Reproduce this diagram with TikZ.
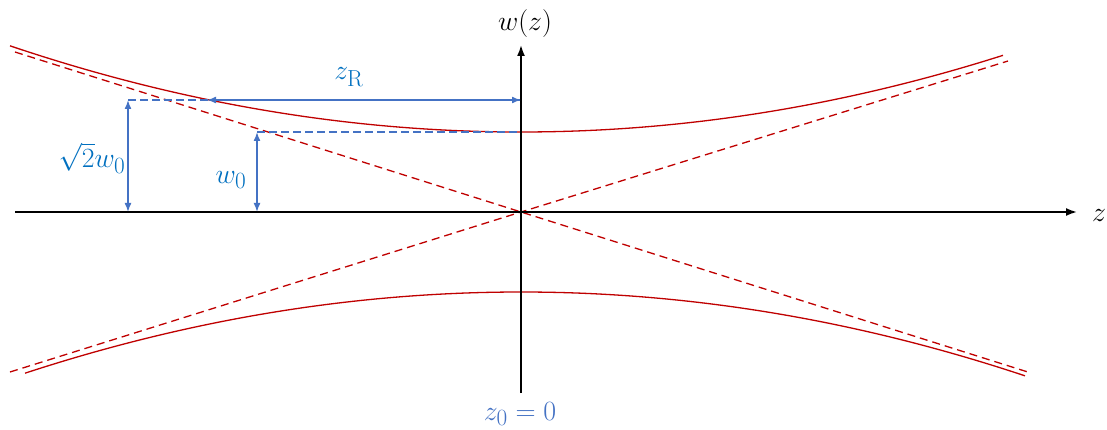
\documentclass[tikz,border=0pt]{standalone}
\usepackage{amsmath}
\usetikzlibrary{arrows.meta}
\definecolor{beamred}{RGB}{192,0,0}
\definecolor{accblue}{RGB}{68,114,196}
\definecolor{labblue}{RGB}{0,112,192}
\tikzset{
  axis/.style={draw=black, line width=1.8pt, -{Latex[length=11pt,width=8pt]}},
  beam/.style={draw=beamred, line width=1.3pt},
  asym/.style={draw=beamred, line width=1.3pt, dash pattern=on 8pt off 5pt},
  guide/.style={draw=accblue, line width=1.2pt, dash pattern=on 8pt off 4pt},
  dim/.style={draw=accblue, line width=1.6pt, {Latex[length=9pt,width=7pt]}-{Latex[length=9pt,width=7pt]}},
  lab/.style={text=labblue, font=\Huge, scale=1.12, inner sep=0pt},
  axlab/.style={text=black, font=\Huge, scale=1.12, inner sep=0pt}
}
\begin{document}
\begin{tikzpicture}[x=1pt,y=-1pt]
\useasboundingbox[fill=white] (0,0) rectangle (1107,430);
% key points
\coordinate (O) at (521,212);
\coordinate (hL) at (15,212);
\coordinate (hR) at (1077,212);
\coordinate (vB) at (521,393);
\coordinate (vT) at (521,45);
\coordinate (a1s) at (15,52);
\coordinate (a1e) at (1031,373);
\coordinate (a2s) at (10,372);
\coordinate (a2e) at (1008,61);
\coordinate (rL) at (207,100);
\coordinate (rR) at (521,100);
\coordinate (rG) at (128,100);
\coordinate (wT) at (521,132);
\coordinate (wG) at (257,132);
\coordinate (sB) at (128,212);
\coordinate (wB) at (257,212);
% asymptotes
\draw[asym] (a1s) -- (O) -- (a1e);
\draw[asym] (a2s) -- (O) -- (a2e);
% beam envelope (parabolic profile w = w0 + c z^2)
\draw[beam] plot[domain=-511:482, samples=120] ({521+\x},{132-3.3*(\x/100)^2});
\draw[beam] plot[domain=-496:504, samples=120] ({521+\x},{292+3.3*(\x/100)^2});
% guides
\draw[guide] (rG) -- (rR);
\draw[guide] (wG) -- (wT);
% axes
\draw[axis] (hL) -- (hR);
\draw[axis] (vB) -- (vT);
% dimension arrows
\draw[dim] (rL) -- (rR);
\draw[dim] (sB) -- (rG);
\draw[dim] (wB) -- (wG);
% labels
\node[axlab] (lw) at (525,24) {$w(z)$};
\node[axlab] (lz) at (1099,216) {$z$};
\node[lab] (lzr) at (349,77) {$z_{\mathrm{R}}$};
\node[lab] (ls) at (92,158) {$\sqrt{2}w_0$};
\node[lab] (lw0) at (231,180) {$w_0$};
\node[lab, text=accblue] (lz0) at (520,414) {$z_0=0$};
\end{tikzpicture}
\end{document}
